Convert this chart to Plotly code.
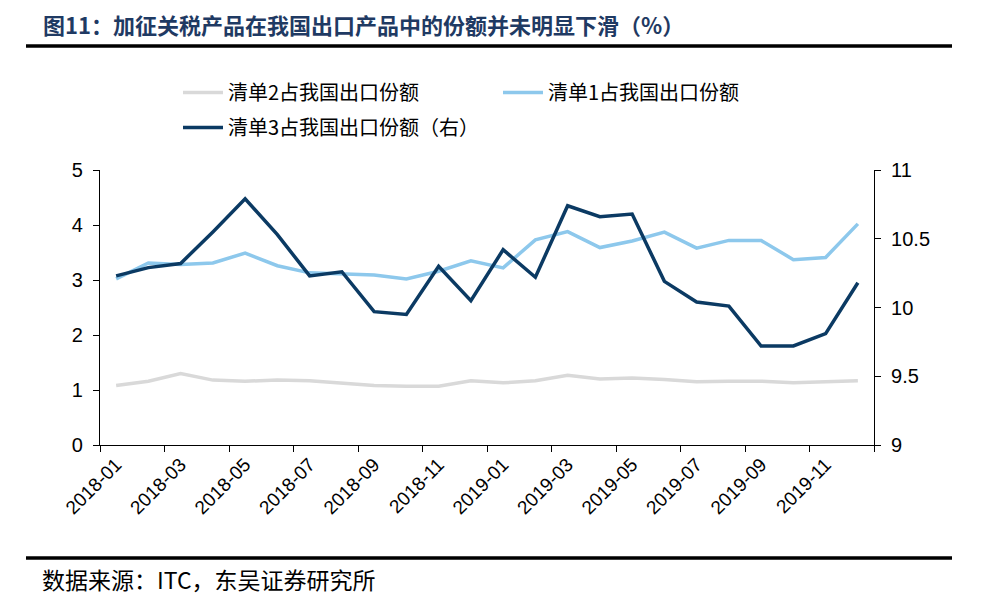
import plotly.graph_objects as go

months = ["2018-01","2018-02","2018-03","2018-04","2018-05","2018-06","2018-07","2018-08",
          "2018-09","2018-10","2018-11","2018-12","2019-01","2019-02","2019-03","2019-04",
          "2019-05","2019-06","2019-07","2019-08","2019-09","2019-10","2019-11","2019-12"]
list2 = [1.08,1.16,1.30,1.18,1.16,1.18,1.17,1.12,1.08,1.07,1.07,1.17,
         1.13,1.17,1.27,1.20,1.22,1.19,1.15,1.16,1.16,1.13,1.15,1.17]
list1 = [3.02,3.31,3.28,3.31,3.49,3.26,3.13,3.11,3.09,3.02,3.16,3.35,
         3.22,3.73,3.88,3.59,3.71,3.87,3.58,3.72,3.72,3.37,3.41,4.02]
list3 = [10.23,10.29,10.32,10.55,10.79,10.53,10.23,10.26,9.97,9.95,10.30,10.05,
         10.42,10.22,10.74,10.66,10.68,10.19,10.04,10.01,9.72,9.72,9.81,10.18]
left_ticks = [0,1,2,3,4,5]
right_ticks = [9,9.5,10,10.5,11]

idx = list(range(len(months)))
# page has an 8px body margin: work in figure coordinates = page - 8
OFF = 8
W, H = 988 - OFF, 605 - OFF
L, R, T, B = 100 - OFF, 874 - OFF, 170 - OFF, 445 - OFF

fig = go.Figure()
fig.add_trace(go.Scatter(x=idx, y=list2, name="清单2占我国出口份额", mode="lines",
                         line=dict(color="#D9D9D9", width=3.5), legend="legend"))
fig.add_trace(go.Scatter(x=idx, y=list1, name="清单1占我国出口份额", mode="lines",
                         line=dict(color="#8DC8EC", width=3.5), legend="legend"))
fig.add_trace(go.Scatter(x=idx, y=list3, name="清单3占我国出口份额（右）", mode="lines",
                         line=dict(color="#0B3A63", width=3.5), yaxis="y2", legend="legend2"))

xtickfont = dict(family="Liberation Sans, Arial", size=19, color="black")
ytickfont = dict(family="Liberation Sans, Arial", size=20, color="black")
legfont = dict(family="Noto Sans CJK SC", size=20, color="black")

fig.update_layout(
    width=W, height=H,
    margin=dict(l=L, r=W - R, t=T, b=H - B, pad=0),
    paper_bgcolor="white", plot_bgcolor="white",
    showlegend=True,
    xaxis=dict(
        range=[-0.5, len(months) - 0.5],
        tickmode="array", tickvals=idx[::2], ticktext=months[::2],
        ticks="", tickangle=-45, tickfont=xtickfont,
        showgrid=False, zeroline=False,
        showline=True, linecolor="black", linewidth=1.2,
        minor=dict(tickmode="array", tickvals=[i - 0.5 for i in range(0, len(months) + 1, 2)],
                   ticks="outside", ticklen=6, tickcolor="black", tickwidth=1, showgrid=False),
    ),
    yaxis=dict(
        range=[0, 5], tickvals=left_ticks, ticks="outside", ticklen=6, tickcolor="black",
        tickfont=ytickfont, showgrid=False, zeroline=False,
        showline=True, linecolor="black", linewidth=1.2, ticklabelstandoff=6,
    ),
    yaxis2=dict(
        range=[9, 11], tickvals=right_ticks, ticktext=[str(v) for v in right_ticks],
        overlaying="y", side="right", ticks="outside", ticklen=6, tickcolor="black",
        tickfont=ytickfont, showgrid=False, zeroline=False,
        showline=True, linecolor="black", linewidth=1.2, ticklabelstandoff=6,
    ),
    legend=dict(orientation="h", xref="container", yref="container",
                x=170 / W, y=1 - 65 / H, xanchor="left", yanchor="top",
                entrywidth=265, entrywidthmode="pixels",
                font=legfont, bgcolor="rgba(0,0,0,0)", itemwidth=40),
    legend2=dict(orientation="h", xref="container", yref="container",
                 x=170 / W, y=1 - 100 / H, xanchor="left", yanchor="top",
                 font=legfont, bgcolor="rgba(0,0,0,0)", itemwidth=40),
)

def px_x(p):
    return (p - L) / (R - L)
def px_y(p):
    return (B - p) / (B - T)

fig.add_annotation(text="<b>图11：加征关税产品在我国出口产品中的份额并未明显下滑（%）</b>",
                   xref="paper", yref="paper", x=px_x(41 - OFF), y=px_y(24 - OFF),
                   xanchor="left", yanchor="middle", showarrow=False,
                   font=dict(family="Noto Sans CJK SC", size=22, color="#1F3A63"))
fig.add_annotation(text="数据来源：ITC，东吴证券研究所",
                   xref="paper", yref="paper", x=px_x(40 - OFF), y=px_y(579 - OFF),
                   xanchor="left", yanchor="middle", showarrow=False,
                   font=dict(family="Noto Sans CJK SC", size=23, color="black"))

for yline in (46, 558):
    fig.add_shape(type="line", xref="paper", yref="paper",
                  x0=px_x(26 - OFF), x1=px_x(952 - OFF),
                  y0=px_y(yline - OFF), y1=px_y(yline - OFF),
                  line=dict(color="black", width=3.5))

fig.write_html("out.html")
